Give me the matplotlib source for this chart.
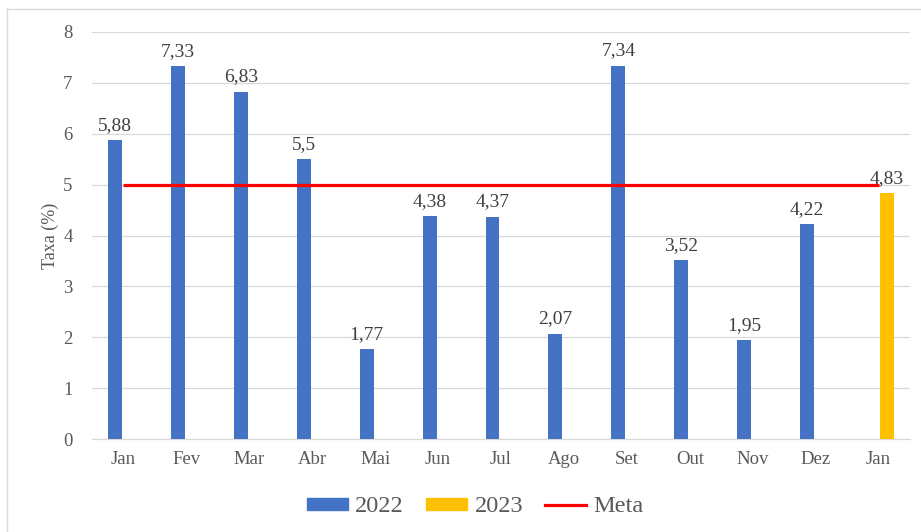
import numpy as np
import matplotlib
matplotlib.use("Agg")
import matplotlib.pyplot as plt
from matplotlib.lines import Line2D

months = ["Jan", "Fev", "Mar", "Abr", "Mai", "Jun", "Jul", "Ago", "Set", "Out", "Nov", "Dez", "Jan"]
taxa_2022 = [5.88, 7.33, 6.83, 5.5, 1.77, 4.38, 4.37, 2.07, 7.34, 3.52, 1.95, 4.22, np.nan]
taxa_2023 = [np.nan] * 12 + [4.83]
meta = [5] * 13

BLUE = "#4472C4"
GOLD = "#FFC000"
RED = "#FF0000"
GRID = "#d9d9d9"
TXT = "#595959"
LBL = "#404040"

plt.rcParams["font.family"] = ["Liberation Serif", "DejaVu Serif"]

fig = plt.figure(figsize=(9.21, 5.32), dpi=100)
ax = fig.add_axes([92 / 921, 93 / 532, 818 / 921, 407 / 532])

x = np.arange(len(months))
w, off = 0.222, 0.135
ax.bar(x - off, taxa_2022, w, color=BLUE, zorder=3, label="2022")
ax.bar(x + off, taxa_2023, w, color=GOLD, zorder=3, label="2023")
ax.plot(x, meta, color=RED, lw=2.3, zorder=4, solid_capstyle="butt")

def fmt(v):
    s = f"{v:.2f}".rstrip("0").rstrip(".")
    return s.replace(".", ",")

for xi, v in zip(x - off, taxa_2022):
    if not np.isnan(v):
        ax.text(xi, v + 0.12, fmt(v), ha="center", va="bottom", fontsize=14, color=LBL, zorder=5)
for xi, v in zip(x + off, taxa_2023):
    if not np.isnan(v):
        ax.text(xi, v + 0.12, fmt(v), ha="center", va="bottom", fontsize=14, color=LBL, zorder=5)

ax.set_xlim(-0.5, len(months) - 0.5)
ax.set_ylim(0, 8)
ax.set_yticks(range(0, 9))
ax.set_xticks(x)
ax.set_xticklabels(months)
ax.tick_params(length=0, colors=TXT, labelsize=13.5)
ax.tick_params(axis="x", pad=9)
ax.tick_params(axis="y", pad=14)
ax.grid(axis="y", color=GRID, lw=0.9, zorder=0)
for s in ["top", "right", "left"]:
    ax.spines[s].set_visible(False)
ax.spines["bottom"].set_color(GRID)
ax.spines["bottom"].set_linewidth(0.9)
ax.set_ylabel("Taxa (%)", fontsize=13, color=TXT, labelpad=3)

# outer frame (only left and top edges visible in the crop)
fig.add_artist(Line2D([7 / 921, 7 / 921], [0, 1 - 9 / 532], transform=fig.transFigure, color=GRID, lw=1))
fig.add_artist(Line2D([7 / 921, 1], [1 - 9 / 532, 1 - 9 / 532], transform=fig.transFigure, color=GRID, lw=1))

handles = [
    plt.Rectangle((0, 0), 1, 1, color=BLUE),
    plt.Rectangle((0, 0), 1, 1, color=GOLD),
    Line2D([0], [0], color=RED, lw=2.3),
]
leg = fig.legend(handles, ["2022", "2023", "Meta"], loc="center", ncol=3,
                 bbox_to_anchor=(0.516, 1 - 507 / 532), frameon=False,
                 fontsize=17.5, handlelength=1.7, handleheight=0.4,
                 handletextpad=0.3, columnspacing=0.9)
for t in leg.get_texts():
    t.set_color(TXT)

fig.savefig("out.png", dpi=100)
